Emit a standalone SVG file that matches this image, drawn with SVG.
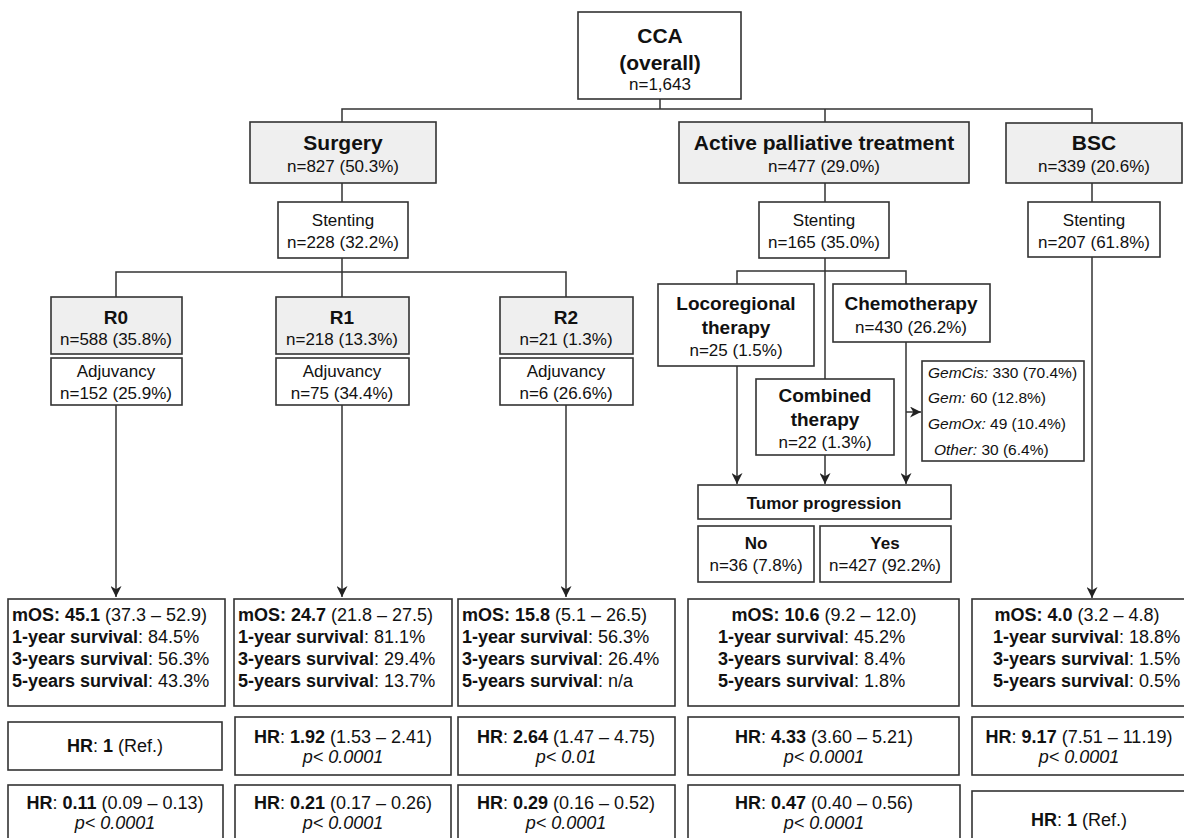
<svg xmlns="http://www.w3.org/2000/svg" width="1184" height="838" viewBox="0 0 1184 838">
<defs>
<marker id="ah" viewBox="0 0 10 10" refX="10" refY="5" markerWidth="11" markerHeight="11" markerUnits="userSpaceOnUse" orient="auto"><path d="M0,0 L10,5 L0,10 L3,5 z" fill="#222"/></marker>
<style>
rect{stroke:#333;stroke-width:1.6;fill:#fff}
rect.g{fill:#efefef}
text{font-family:"Liberation Sans",Arial,sans-serif;fill:#111;font-size:17px}
.c{text-anchor:middle}
.t1{font-size:21px;font-weight:bold}
.t2{font-size:19px;font-weight:bold}
.t3{font-size:17px;font-weight:bold}
.s{font-size:18px}
.sub{font-size:15.5px}
.b{font-weight:bold}
.i{font-style:italic}
#connectors path{fill:none;stroke:#333;stroke-width:1.5}
</style>
</defs>
<rect x="0" y="0" width="1184" height="838" style="fill:#fff;stroke:none"/>
<g id="connectors">
<path d="M660,99 V109 M342,122 V109 H1092 V123 M825,109 V122"/>
<path d="M342,183 V202 M825,183 V202 M1092,183 V202"/>
<path d="M342,258 V272 M116,297 V272 H566 V297 M342,272 V297"/>
<path d="M116,405 V597" marker-end="url(#ah)"/>
<path d="M342,405 V597" marker-end="url(#ah)"/>
<path d="M566,405 V597" marker-end="url(#ah)"/>
<path d="M825,258 V379 M737,284 V271 H906 V284"/>
<path d="M737,366 V484" marker-end="url(#ah)"/>
<path d="M825,455 V484" marker-end="url(#ah)"/>
<path d="M906,342 V484" marker-end="url(#ah)"/>
<path d="M906,412 H921" marker-end="url(#ah)"/>
<path d="M1092,257 V598" marker-end="url(#ah)"/>
</g>
<g id="cca"><rect x="578" y="12" width="163" height="87"/>
<text class="c t1" x="660" y="43">CCA</text><text class="c t1" x="660" y="70">(overall)</text><text class="c" x="660" y="90">n=1,643</text></g>
<g id="surgery"><rect class="g" x="250" y="122" width="186" height="61"/>
<text class="c t1" x="343" y="150">Surgery</text><text class="c" x="343" y="172">n=827 (50.3%)</text></g>
<g id="active"><rect class="g" x="679" y="122" width="290" height="61"/>
<text class="c t1" x="824" y="150">Active palliative treatment</text><text class="c" x="824" y="172">n=477 (29.0%)</text></g>
<g id="bsc"><rect class="g" x="1006" y="123" width="176" height="60"/>
<text class="c t1" x="1094" y="150">BSC</text><text class="c" x="1094" y="172">n=339 (20.6%)</text></g>
<g id="stent-s"><rect x="278" y="202" width="130" height="56"/>
<text class="c" x="343" y="226">Stenting</text><text class="c" x="343" y="248">n=228 (32.2%)</text></g>
<g id="stent-a"><rect x="759" y="202" width="130" height="56"/>
<text class="c" x="824" y="226">Stenting</text><text class="c" x="824" y="248">n=165 (35.0%)</text></g>
<g id="stent-b"><rect x="1028" y="202" width="132" height="55"/>
<text class="c" x="1094" y="226">Stenting</text><text class="c" x="1094" y="248">n=207 (61.8%)</text></g>
<g id="r0"><rect class="g" x="51" y="297" width="131" height="57"/>
<text class="c t2" x="116" y="324">R0</text><text class="c" x="116" y="345">n=588 (35.8%)</text></g>
<g id="r1"><rect class="g" x="276" y="297" width="133" height="57"/>
<text class="c t2" x="342" y="324">R1</text><text class="c" x="342" y="345">n=218 (13.3%)</text></g>
<g id="r2"><rect class="g" x="500" y="297" width="133" height="57"/>
<text class="c t2" x="566" y="324">R2</text><text class="c" x="566" y="345">n=21 (1.3%)</text></g>
<g id="adj0"><rect x="51" y="358" width="131" height="47"/>
<text class="c" x="116" y="377">Adjuvancy</text><text class="c" x="116" y="399">n=152 (25.9%)</text></g>
<g id="adj1"><rect x="276" y="358" width="133" height="47"/>
<text class="c" x="342" y="377">Adjuvancy</text><text class="c" x="342" y="399">n=75 (34.4%)</text></g>
<g id="adj2"><rect x="500" y="358" width="133" height="47"/>
<text class="c" x="566" y="377">Adjuvancy</text><text class="c" x="566" y="399">n=6 (26.6%)</text></g>
<g id="loco"><rect x="658" y="284" width="156" height="82"/>
<text class="c t2" x="736" y="310">Locoregional</text><text class="c t2" x="736" y="334">therapy</text><text class="c" x="736" y="356">n=25 (1.5%)</text></g>
<g id="chemo"><rect x="833" y="284" width="157" height="58"/>
<text class="c t2" x="911" y="310">Chemotherapy</text><text class="c" x="911" y="333">n=430 (26.2%)</text></g>
<g id="combined"><rect x="756" y="379" width="138" height="76"/>
<text class="c t2" x="825" y="402">Combined</text><text class="c t2" x="825" y="426">therapy</text><text class="c" x="825" y="448">n=22 (1.3%)</text></g>
<g id="regimens"><rect x="922" y="361" width="162" height="100"/>
<text class="sub" x="928" y="378"><tspan class="i">GemCis:</tspan> 330 (70.4%)</text>
<text class="sub" x="928" y="403"><tspan class="i">Gem:</tspan> 60 (12.8%)</text>
<text class="sub" x="928" y="429"><tspan class="i">GemOx:</tspan> 49 (10.4%)</text>
<text class="sub" x="934" y="455"><tspan class="i">Other:</tspan> 30 (6.4%)</text></g>
<g id="tumor"><rect x="698" y="485" width="253" height="34"/>
<text class="c t3" x="824" y="509">Tumor progression</text></g>
<g id="no"><rect x="698" y="526" width="116" height="56"/>
<text class="c t3" x="756" y="549">No</text><text class="c" x="756" y="571">n=36 (7.8%)</text></g>
<g id="yes"><rect x="820" y="526" width="131" height="56"/>
<text class="c t3" x="885" y="549">Yes</text><text class="c" x="885" y="571">n=427 (92.2%)</text></g>
<g id="os-r0"><rect x="8" y="599" width="217" height="107"/>
<text class="s" x="12" y="621"><tspan class="b">mOS: 45.1</tspan> (37.3 – 52.9)</text>
<text class="s" x="12" y="643"><tspan class="b">1-year survival</tspan>: 84.5%</text>
<text class="s" x="12" y="665"><tspan class="b">3-years survival</tspan>: 56.3%</text>
<text class="s" x="12" y="687"><tspan class="b">5-years survival</tspan>: 43.3%</text></g>
<g id="os-r1"><rect x="234" y="599" width="218" height="107"/>
<text class="s" x="238" y="621"><tspan class="b">mOS: 24.7</tspan> (21.8 – 27.5)</text>
<text class="s" x="238" y="643"><tspan class="b">1-year survival</tspan>: 81.1%</text>
<text class="s" x="238" y="665"><tspan class="b">3-years survival</tspan>: 29.4%</text>
<text class="s" x="238" y="687"><tspan class="b">5-years survival</tspan>: 13.7%</text></g>
<g id="os-r2"><rect x="458" y="599" width="217" height="107"/>
<text class="s" x="462" y="621"><tspan class="b">mOS: 15.8</tspan> (5.1 – 26.5)</text>
<text class="s" x="462" y="643"><tspan class="b">1-year survival</tspan>: 56.3%</text>
<text class="s" x="462" y="665"><tspan class="b">3-years survival</tspan>: 26.4%</text>
<text class="s" x="462" y="687"><tspan class="b">5-years survival</tspan>: n/a</text></g>
<g id="os-apt"><rect x="688" y="599" width="271" height="107"/>
<text class="s c" x="824" y="621"><tspan class="b">mOS: 10.6</tspan> (9.2 – 12.0)</text>
<text class="s" x="718" y="643"><tspan class="b">1-year survival</tspan>: 45.2%</text>
<text class="s" x="718" y="665"><tspan class="b">3-years survival</tspan>: 8.4%</text>
<text class="s" x="718" y="687"><tspan class="b">5-years survival</tspan>: 1.8%</text></g>
<g id="os-bsc"><rect x="972" y="599" width="215" height="107"/>
<text class="s c" x="1077" y="621"><tspan class="b">mOS: 4.0</tspan> (3.2 – 4.8)</text>
<text class="s" x="993" y="643"><tspan class="b">1-year survival</tspan>: 18.8%</text>
<text class="s" x="993" y="665"><tspan class="b">3-years survival</tspan>: 1.5%</text>
<text class="s" x="993" y="687"><tspan class="b">5-years survival</tspan>: 0.5%</text></g>
<g id="hr-r0"><rect x="8" y="722" width="214" height="48"/>
<text class="s c" x="115" y="752"><tspan class="b">HR</tspan>: <tspan class="b">1</tspan> (Ref.)</text></g>
<g id="hr-r1"><rect x="235" y="717" width="216" height="58"/>
<text class="s c" x="343" y="743"><tspan class="b">HR</tspan>: <tspan class="b">1.92</tspan> (1.53 – 2.41)</text><text class="s c i" x="343" y="763">p&lt; 0.0001</text></g>
<g id="hr-r2"><rect x="458" y="717" width="217" height="58"/>
<text class="s c" x="566" y="743"><tspan class="b">HR</tspan>: <tspan class="b">2.64</tspan> (1.47 – 4.75)</text><text class="s c i" x="566" y="763">p&lt; 0.01</text></g>
<g id="hr-apt"><rect x="688" y="717" width="271" height="58"/>
<text class="s c" x="824" y="743"><tspan class="b">HR</tspan>: <tspan class="b">4.33</tspan> (3.60 – 5.21)</text><text class="s c i" x="824" y="763">p&lt; 0.0001</text></g>
<g id="hr-bsc"><rect x="972" y="717" width="215" height="58"/>
<text class="s c" x="1079" y="743"><tspan class="b">HR</tspan>: <tspan class="b">9.17</tspan> (7.51 – 11.19)</text><text class="s c i" x="1079" y="763">p&lt; 0.0001</text></g>
<g id="hr2-r0"><rect x="8" y="785" width="215" height="60"/>
<text class="s c" x="115" y="809"><tspan class="b">HR</tspan>: <tspan class="b">0.11</tspan> (0.09 – 0.13)</text><text class="s c i" x="115" y="829">p&lt; 0.0001</text></g>
<g id="hr2-r1"><rect x="235" y="785" width="216" height="60"/>
<text class="s c" x="343" y="809"><tspan class="b">HR</tspan>: <tspan class="b">0.21</tspan> (0.17 – 0.26)</text><text class="s c i" x="343" y="829">p&lt; 0.0001</text></g>
<g id="hr2-r2"><rect x="458" y="785" width="217" height="60"/>
<text class="s c" x="566" y="809"><tspan class="b">HR</tspan>: <tspan class="b">0.29</tspan> (0.16 – 0.52)</text><text class="s c i" x="566" y="829">p&lt; 0.0001</text></g>
<g id="hr2-apt"><rect x="688" y="785" width="272" height="60"/>
<text class="s c" x="824" y="809"><tspan class="b">HR</tspan>: <tspan class="b">0.47</tspan> (0.40 – 0.56)</text><text class="s c i" x="824" y="829">p&lt; 0.0001</text></g>
<g id="hr2-bsc"><rect x="972" y="791" width="215" height="60"/>
<text class="s c" x="1079" y="826"><tspan class="b">HR</tspan>: <tspan class="b">1</tspan> (Ref.)</text></g>
</svg>
